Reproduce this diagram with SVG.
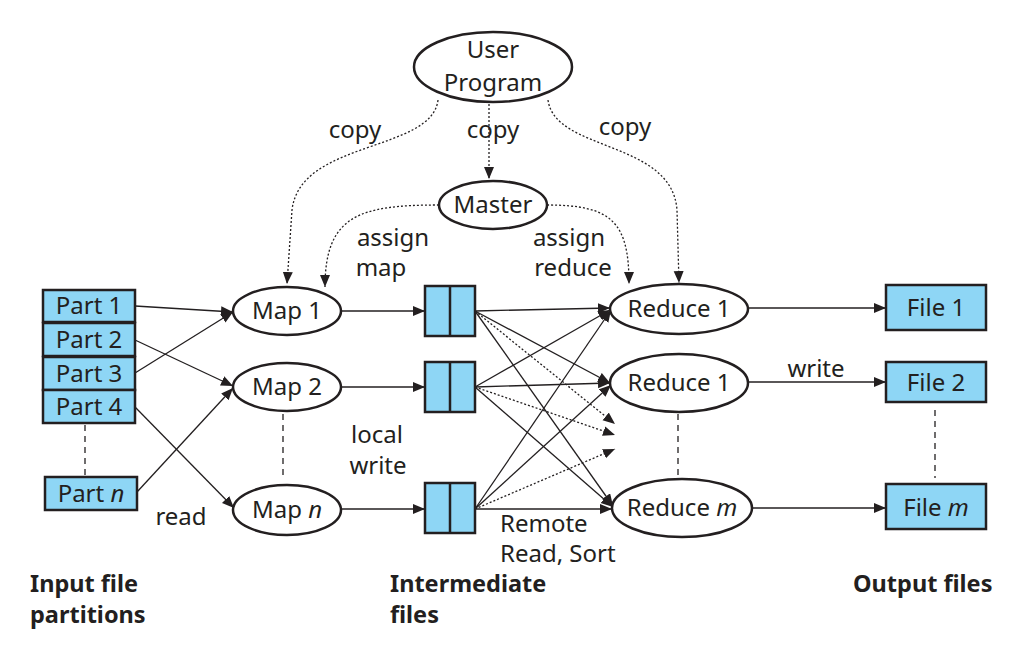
<svg xmlns="http://www.w3.org/2000/svg" width="1029" height="660" viewBox="0 0 1029 660">
<style>
text{font-family:"Noto Sans","Liberation Sans",sans-serif;font-size:24px;fill:#231f20}
.c{text-anchor:middle}
.b{font-weight:bold;font-size:23.5px}
.i{font-style:italic}
.node{fill:#fff;stroke:#231f20;stroke-width:2.5}
.box{fill:#8ed6f5;stroke:#231f20;stroke-width:2.5}
.ln{fill:none;stroke:#231f20;stroke-width:1.3;marker-end:url(#ah)}
.dot{fill:none;stroke:#231f20;stroke-width:1.3;stroke-dasharray:2 2;marker-end:url(#ah)}
.dash{fill:none;stroke:#231f20;stroke-width:1.3;stroke-dasharray:6 5}
</style>
<defs>
<marker id="ah" markerUnits="userSpaceOnUse" markerWidth="13" markerHeight="11" refX="12" refY="5" orient="auto">
<path d="M0,0 L12,5 L0,10 z" fill="#231f20"/>
</marker>
</defs>
<rect width="1029" height="660" fill="#fff"/>
<g id="connectors">
<path class="dot" d="M438,100 C432,152 300,140 292,210 L287,284"/>
<path class="dot" d="M489,104 L489,179"/>
<path class="dot" d="M548,100 C555,152 672,140 677,210 L679,283"/>
<path class="dot" d="M439,205 C360,205 325,215 325,287"/>
<path class="dot" d="M547,205 C612,205 629,222 629,284"/>
<path class="ln" d="M135,306 L233,312"/>
<path class="ln" d="M135,340 L233,386"/>
<path class="ln" d="M135,373 L233,312"/>
<path class="ln" d="M135,407 L234,508"/>
<path class="ln" d="M137,492 L233,388"/>
<path class="ln" d="M340,311 L425,311"/>
<path class="ln" d="M340,387 L425,387"/>
<path class="ln" d="M340,509 L425,509"/>
<path class="ln" d="M475,311 L610,308"/>
<path class="ln" d="M475,311 L610,383"/>
<path class="ln" d="M475,311 L613,506"/>
<path class="dot" d="M475,311 L615,424"/>
<path class="ln" d="M475,387 L610,310"/>
<path class="ln" d="M475,387 L610,383"/>
<path class="ln" d="M475,387 L613,507"/>
<path class="dot" d="M475,387 L615,435"/>
<path class="ln" d="M475,509 L611,310"/>
<path class="ln" d="M475,509 L611,385"/>
<path class="ln" d="M475,509 L612,509"/>
<path class="dot" d="M475,509 L615,449"/>
<path class="ln" d="M748,308 L886,308"/>
<path class="ln" d="M748,382 L886,382"/>
<path class="ln" d="M752,508 L886,508"/>
<path class="dash" d="M85,425 L85,475"/>
<path class="dash" d="M283,414 L283,476"/>
<path class="dash" d="M678,414 L678,478"/>
<path class="dash" d="M935,410 L935,478"/>
</g>
<g id="user-program"><ellipse class="node" cx="493" cy="67" rx="79" ry="35"/><text class="c" x="493" y="58">User</text><text class="c" x="493" y="91">Program</text></g>
<g id="master"><ellipse class="node" cx="493" cy="205" rx="54" ry="24"/><text class="c" x="493" y="213">Master</text></g>
<g id="part1"><rect class="box" x="43" y="290" width="92" height="32"/><text class="c" x="89" y="314">Part 1</text></g>
<g id="part2"><rect class="box" x="43" y="323" width="92" height="33"/><text class="c" x="89" y="348">Part 2</text></g>
<g id="part3"><rect class="box" x="43" y="357" width="92" height="33"/><text class="c" x="89" y="382">Part 3</text></g>
<g id="part4"><rect class="box" x="43" y="390" width="92" height="33"/><text class="c" x="89" y="415">Part 4</text></g>
<g id="partn"><rect class="box" x="45" y="477" width="92" height="33"/><text class="c" x="91" y="502">Part <tspan class="i">n</tspan></text></g>
<g id="map1"><ellipse class="node" cx="287" cy="311" rx="54" ry="24"/><text class="c" x="287" y="319">Map 1</text></g>
<g id="map2"><ellipse class="node" cx="287" cy="387" rx="54" ry="24"/><text class="c" x="287" y="395">Map 2</text></g>
<g id="mapn"><ellipse class="node" cx="287" cy="510" rx="54" ry="25"/><text class="c" x="287" y="518">Map <tspan class="i">n</tspan></text></g>
<g id="inter1"><rect class="box" x="425" y="286" width="50" height="50"/><line x1="450" y1="286" x2="450" y2="336" stroke="#231f20" stroke-width="2.5"/></g>
<g id="inter2"><rect class="box" x="425" y="362" width="50" height="50"/><line x1="450" y1="362" x2="450" y2="412" stroke="#231f20" stroke-width="2.5"/></g>
<g id="inter3"><rect class="box" x="425" y="483" width="50" height="50"/><line x1="450" y1="483" x2="450" y2="533" stroke="#231f20" stroke-width="2.5"/></g>
<g id="reduce1"><ellipse class="node" cx="679" cy="309" rx="69" ry="25"/><text class="c" x="679" y="317">Reduce 1</text></g>
<g id="reduce1b"><ellipse class="node" cx="679" cy="383" rx="69" ry="29"/><text class="c" x="679" y="391">Reduce 1</text></g>
<g id="reducem"><ellipse class="node" cx="682" cy="508" rx="70" ry="29"/><text class="c" x="682" y="516">Reduce <tspan class="i">m</tspan></text></g>
<g id="file1"><rect class="box" x="886" y="285" width="100" height="45"/><text class="c" x="936" y="316">File 1</text></g>
<g id="file2"><rect class="box" x="886" y="362" width="100" height="40"/><text class="c" x="936" y="391">File 2</text></g>
<g id="filem"><rect class="box" x="886" y="484" width="100" height="45"/><text class="c" x="936" y="516">File <tspan class="i">m</tspan></text></g>
<g id="labels">
<text class="c" x="355" y="138">copy</text>
<text class="c" x="493" y="138">copy</text>
<text class="c" x="625" y="135">copy</text>
<text class="c" x="393" y="246">assign</text>
<text class="c" x="381" y="276">map</text>
<text class="c" x="569" y="246">assign</text>
<text class="c" x="573" y="276">reduce</text>
<text class="c" x="377" y="443">local</text>
<text class="c" x="378" y="474">write</text>
<text class="c" x="181" y="525">read</text>
<text class="c" x="816" y="377">write</text>
<text x="500" y="532">Remote</text>
<text x="500" y="562">Read, Sort</text>
<text class="b" x="30" y="592">Input file</text>
<text class="b" x="30" y="623">partitions</text>
<text class="b" x="390" y="592">Intermediate</text>
<text class="b" x="390" y="623">files</text>
<text class="b" x="853" y="592">Output files</text>
</g>
</svg>
